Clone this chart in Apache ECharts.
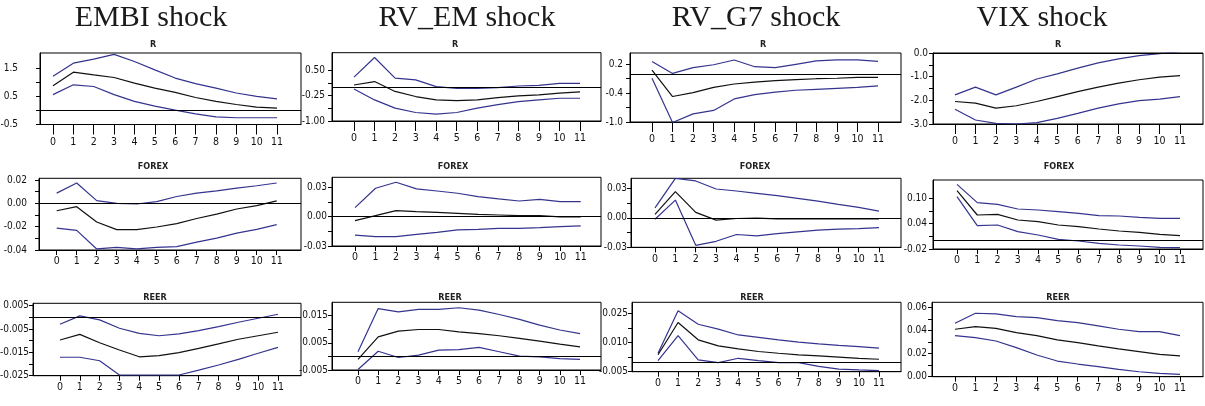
<!DOCTYPE html>
<html><head><meta charset="utf-8">
<script src="https://cdn.jsdelivr.net/npm/echarts@6/dist/echarts.min.js"></script>
<style>html,body{margin:0;padding:0;background:#fff}#c{width:1205px;height:406px}</style>
</head><body><div id="c"></div>
<script>
// ---------- data ----------
const horizons = ['0','1','2','3','4','5','6','7','8','9','10','11'];
const shocks = ['EMBI shock', 'RV_EM shock', 'RV_G7 shock', 'VIX shock'];
const variables = ['R', 'FOREX', 'REER'];

// R responses
const embi_R_hi  = [1.21,1.68,1.82,1.99,1.74,1.44,1.15,0.95,0.79,0.62,0.50,0.41];
const embi_R_mid = [0.88,1.36,1.26,1.17,0.97,0.79,0.64,0.46,0.32,0.21,0.12,0.08];
const embi_R_lo  = [0.56,0.91,0.85,0.56,0.32,0.15,0.01,-0.12,-0.23,-0.26,-0.26,-0.26];
const rvem_R_hi  = [0.29,0.87,0.26,0.21,0.01,-0.04,-0.04,-0.02,0.03,0.05,0.11,0.11];
const rvem_R_mid = [0.06,0.16,-0.13,-0.28,-0.38,-0.40,-0.38,-0.31,-0.26,-0.23,-0.18,-0.14];
const rvem_R_lo  = [-0.06,-0.38,-0.62,-0.75,-0.80,-0.75,-0.62,-0.52,-0.43,-0.38,-0.33,-0.33];
const rvg7_R_hi  = [0.26,0.01,0.13,0.19,0.29,0.15,0.13,0.20,0.27,0.29,0.29,0.26];
const rvg7_R_mid = [0.08,-0.47,-0.39,-0.28,-0.21,-0.17,-0.14,-0.12,-0.10,-0.09,-0.07,-0.07];
const rvg7_R_lo  = [-0.09,-1.01,-0.83,-0.76,-0.52,-0.43,-0.38,-0.34,-0.32,-0.30,-0.28,-0.25];
const vix_R_hi   = [-1.77,-1.44,-1.77,-1.44,-1.10,-0.88,-0.64,-0.42,-0.25,-0.11,-0.03,0.06];
const vix_R_mid  = [-2.05,-2.12,-2.33,-2.23,-2.05,-1.84,-1.63,-1.44,-1.27,-1.13,-1.02,-0.96];
const vix_R_lo   = [-2.38,-2.83,-2.97,-3.00,-2.94,-2.76,-2.55,-2.33,-2.15,-2.01,-1.95,-1.84];

// FOREX responses
const embi_F_hi  = [0.0087,0.0174,0.0023,0.0000,-0.0006,0.0014,0.0058,0.0087,0.0107,0.0130,0.0150,0.0174];
const embi_F_mid = [-0.0064,-0.0029,-0.0160,-0.0226,-0.0226,-0.0203,-0.0174,-0.0130,-0.0093,-0.0049,-0.0020,0.0020];
const embi_F_lo  = [-0.0212,-0.0232,-0.0391,-0.0377,-0.0391,-0.0377,-0.0371,-0.0333,-0.0299,-0.0255,-0.0223,-0.0183];
const rvem_F_hi  = [0.0092,0.0290,0.0351,0.0283,0.0262,0.0239,0.0205,0.0181,0.0160,0.0177,0.0153,0.0153];
const rvem_F_mid = [-0.0041,0.0010,0.0061,0.0051,0.0044,0.0034,0.0024,0.0017,0.0010,0.0010,-0.0002,-0.0003];
const rvem_F_lo  = [-0.0188,-0.0205,-0.0205,-0.0181,-0.0160,-0.0136,-0.0130,-0.0119,-0.0119,-0.0113,-0.0102,-0.0095];
const rvg7_F_hi  = [0.0102,0.0402,0.0375,0.0293,0.0273,0.0249,0.0225,0.0198,0.0170,0.0136,0.0106,0.0068];
const rvg7_F_mid = [0.0034,0.0266,0.0055,-0.0024,-0.0007,-0.0003,-0.0010,-0.0010,-0.0010,-0.0010,-0.0010,-0.0010];
const rvg7_F_lo  = [-0.0014,0.0180,-0.0280,-0.0239,-0.0170,-0.0184,-0.0160,-0.0143,-0.0126,-0.0116,-0.0109,-0.0099];
const vix_F_hi   = [0.1330,0.0897,0.0858,0.0747,0.0724,0.0684,0.0645,0.0589,0.0582,0.0550,0.0526,0.0526];
const vix_F_mid  = [0.1180,0.0605,0.0621,0.0487,0.0447,0.0368,0.0329,0.0274,0.0226,0.0195,0.0147,0.0116];
const vix_F_lo   = [0.1040,0.0353,0.0368,0.0210,0.0132,0.0029,-0.0010,-0.0066,-0.0105,-0.0129,-0.0160,-0.0168];

// REER responses
const embi_E_hi  = [-0.0030,0.0006,-0.0011,-0.0047,-0.0069,-0.0079,-0.0071,-0.0057,-0.0040,-0.0021,-0.0004,0.0013];
const embi_E_mid = [-0.0097,-0.0073,-0.0109,-0.0140,-0.0169,-0.0164,-0.0151,-0.0133,-0.0114,-0.0094,-0.0079,-0.0064];
const embi_E_lo  = [-0.0171,-0.0171,-0.0186,-0.0247,-0.0247,-0.0247,-0.0247,-0.0226,-0.0204,-0.0180,-0.0154,-0.0129];
const rvem_E_hi  = [0.0017,0.0176,0.0164,0.0173,0.0173,0.0179,0.0170,0.0154,0.0136,0.0115,0.0097,0.0084];
const rvem_E_mid = [-0.0011,0.0072,0.0093,0.0099,0.0099,0.0090,0.0084,0.0076,0.0066,0.0056,0.0045,0.0035];
const rvem_E_lo  = [-0.0048,0.0019,-0.0004,0.0005,0.0023,0.0025,0.0033,0.0017,0.0001,-0.0002,-0.0008,-0.0011];
const rvg7_E_hi  = [0.0045,0.0263,0.0194,0.0169,0.0139,0.0127,0.0114,0.0102,0.0093,0.0085,0.0079,0.0071];
const rvg7_E_mid = [0.0037,0.0203,0.0114,0.0083,0.0067,0.0054,0.0045,0.0037,0.0031,0.0025,0.0019,0.0014];
const rvg7_E_lo  = [0.0007,0.0136,0.0011,-0.0003,0.0019,0.0007,-0.0003,-0.0003,-0.0023,-0.0037,-0.0041,-0.0044];
const vix_E_hi   = [0.0464,0.0551,0.0545,0.0522,0.0513,0.0487,0.0470,0.0441,0.0412,0.0391,0.0391,0.0357];
const vix_E_mid  = [0.0412,0.0435,0.0420,0.0383,0.0357,0.0319,0.0296,0.0267,0.0241,0.0217,0.0194,0.0180];
const vix_E_lo   = [0.0357,0.0339,0.0310,0.0252,0.0188,0.0136,0.0110,0.0087,0.0064,0.0043,0.0029,0.0020];

// y tick labels per panel
const yt_embi_R = [-0.5, 0.5, 1.5];
const yt_rvem_R = [-1.00, -0.25, 0.50];
const yt_rvg7_R = [-1.0, -0.4, 0.2];
const yt_vix_R  = [-3.0, -2.0, -1.0, 0.0];
const yt_embi_F = [-0.04, -0.02, 0.00, 0.02];
const yt_rvem_F = [-0.03, 0.00, 0.03];
const yt_rvg7_F = [-0.03, 0.00, 0.03];
const yt_vix_F  = [-0.02, 0.04, 0.10];
const yt_embi_E = [-0.025, -0.015, -0.005, 0.005];
const yt_rvem_E = [-0.005, 0.005, 0.015];
const yt_rvg7_E = [-0.005, 0.010, 0.025];
const yt_vix_E  = [0.00, 0.02, 0.04, 0.06];

// ---------- layout (pixels) ----------
const panels = [
  // row 0 : R
  {r:0,c:0,hi:embi_R_hi,mid:embi_R_mid,lo:embi_R_lo,yt:yt_embi_R,dec:1,L:40,R:301,T:53,B:124.5,t0:53,t11:277,ymin:-0.5,ymax:2.04,gap:22,tx:153},
  {r:0,c:1,hi:rvem_R_hi,mid:rvem_R_mid,lo:rvem_R_lo,yt:yt_rvem_R,dec:2,L:332,R:601,T:52.7,B:121,t0:354,t11:580,ymin:-1.0,ymax:1.01,gap:7,tx:455},
  {r:0,c:2,hi:rvg7_R_hi,mid:rvg7_R_mid,lo:rvg7_R_lo,yt:yt_rvg7_R,dec:1,L:630,R:901,T:53,B:122,t0:652,t11:878,ymin:-1.0,ymax:0.435,gap:7,tx:763},
  {r:0,c:3,hi:vix_R_hi,mid:vix_R_mid,lo:vix_R_lo,yt:yt_vix_R,dec:1,L:933,R:1203,T:53,B:124,t0:955,t11:1180,ymin:-3,ymax:0,gap:5,tx:1058},
  // row 1 : FOREX
  {r:1,c:0,hi:embi_F_hi,mid:embi_F_mid,lo:embi_F_lo,yt:yt_embi_F,dec:2,L:39,R:301,T:178.3,B:250,t0:56.7,t11:276.7,ymin:-0.04,ymax:0.0214,gap:12,tx:153},
  {r:1,c:1,hi:rvem_F_hi,mid:rvem_F_mid,lo:rvem_F_lo,yt:yt_rvem_F,dec:2,L:332,R:601,T:177.3,B:246,t0:355,t11:580.7,ymin:-0.03,ymax:0.0402,gap:5,tx:453},
  {r:1,c:2,hi:rvg7_F_hi,mid:rvg7_F_mid,lo:rvg7_F_lo,yt:yt_rvg7_F,dec:2,L:631,R:901,T:178.3,B:247.3,t0:655,t11:879,ymin:-0.03,ymax:0.0402,gap:4,tx:755},
  {r:1,c:3,hi:vix_F_hi,mid:vix_F_mid,lo:vix_F_lo,yt:yt_vix_F,dec:2,L:933,R:1203,T:180,B:249,t0:957,t11:1180,ymin:-0.02,ymax:0.1434,gap:6,tx:1059},
  // row 2 : REER
  {r:2,c:0,hi:embi_E_hi,mid:embi_E_mid,lo:embi_E_lo,yt:yt_embi_E,dec:3,L:33,R:301,T:303.3,B:375.7,t0:60,t11:278,ymin:-0.025,ymax:0.006,gap:4,tx:155},
  {r:2,c:1,hi:rvem_E_hi,mid:rvem_E_mid,lo:rvem_E_lo,yt:yt_rvem_E,dec:3,L:332,R:601,T:302.3,B:370,t0:358,t11:580,ymin:-0.005,ymax:0.0199,gap:4,tx:450},
  {r:2,c:2,hi:rvg7_E_hi,mid:rvg7_E_mid,lo:rvg7_E_lo,yt:yt_rvg7_E,dec:3,L:632,R:901,T:302.3,B:371.7,t0:658,t11:879,ymin:-0.005,ymax:0.0307,gap:4,tx:752},
  {r:2,c:3,hi:vix_E_hi,mid:vix_E_mid,lo:vix_E_lo,yt:yt_vix_E,dec:2,L:932,R:1203,T:302.3,B:376.7,t0:955,t11:1180,ymin:0,ymax:0.0646,gap:5,tx:1058}
];
const rowTitleY = [45, 167, 298];
const rowTick = [10, 5, 5];
const rowMargin = [12, 6, 6];
const shockX = [151, 467, 756, 1042];

const NARROW = "'DejaVu Sans Condensed','Liberation Sans Narrow',sans-serif";
const BAND = '#34348f';
const idx = horizons.map((h, i) => i);

const grids = [], xAxes = [], yAxes = [], series = [], graphics = [];
panels.forEach((p, i) => {
  grids.push({left: p.L, top: p.T, width: p.R - p.L, height: p.B - p.T,
    show: true, borderColor: '#000', borderWidth: 1, backgroundColor: 'transparent', outerBoundsMode: 'none'});
  const s = (p.t11 - p.t0) / 11;
  xAxes.push({type: 'value', gridIndex: i,
    min: -(p.t0 - p.L) / s, max: 11 + (p.R - p.t11) / s,
    axisLine: {show: true, onZero: false, lineStyle: {color: '#000', width: 1}},
    axisTick: {show: true, customValues: idx, length: rowTick[p.r], lineStyle: {color: '#000', width: 1}},
    axisLabel: {customValues: idx, formatter: v => horizons[Math.round(v)], margin: rowMargin[p.r],
      fontFamily: NARROW, fontSize: 10.5, color: '#111'},
    splitLine: {show: false}});
  const ticks = [];
  for (let k = 0; k < p.yt.length; k++) {
    ticks.push(p.yt[k]);
    if (k < p.yt.length - 1) ticks.push((p.yt[k] + p.yt[k + 1]) / 2);
  }
  yAxes.push({type: 'value', gridIndex: i, min: p.ymin, max: p.ymax,
    axisLine: {show: true, onZero: false, lineStyle: {color: '#000', width: 1}},
    axisTick: {show: true, customValues: ticks, length: 4, lineStyle: {color: '#000', width: 1}},
    axisLabel: {customValues: p.yt, formatter: v => v.toFixed(p.dec), margin: p.gap,
      fontFamily: NARROW, fontSize: 10, color: '#111'},
    splitLine: {show: false}});
  const mk = (arr, color, w, extra) => Object.assign({
    type: 'line', xAxisIndex: i, yAxisIndex: i,
    data: horizons.map((h, k) => [k, arr[k]]),
    symbol: 'none', showSymbol: false, silent: true, clip: true, animation: false,
    lineStyle: {color: color, width: w}}, extra || {});
  series.push(mk(p.hi, BAND, 1.2));
  series.push(mk(p.lo, BAND, 1.2));
  series.push(mk(p.mid, '#111', 1.2, {
    markLine: {silent: true, symbol: 'none', animation: false, label: {show: false},
      lineStyle: {color: '#000', width: 1.2, type: 'solid'}, data: [{yAxis: 0}]}}));
  graphics.push({type: 'text', x: p.tx, y: rowTitleY[p.r], silent: true,
    style: {text: variables[p.r], fontFamily: NARROW, fontSize: 9, fontWeight: 'bold', fill: '#222',
      textAlign: 'center', textVerticalAlign: 'middle'}});
});
shocks.forEach((t, c) => {
  graphics.push({type: 'text', x: shockX[c], y: 18, silent: true,
    style: {text: t, fontFamily: "'Liberation Serif','DejaVu Serif',serif", fontSize: 30, fill: '#1a1a1a',
      textAlign: 'center', textVerticalAlign: 'middle'}});
});

const chart = echarts.init(document.getElementById('c'), null, {renderer: 'canvas'});
chart.setOption({
  backgroundColor: '#fff', animation: false,
  grid: grids, xAxis: xAxes, yAxis: yAxes, series: series, graphic: graphics
});
</script></body></html>
